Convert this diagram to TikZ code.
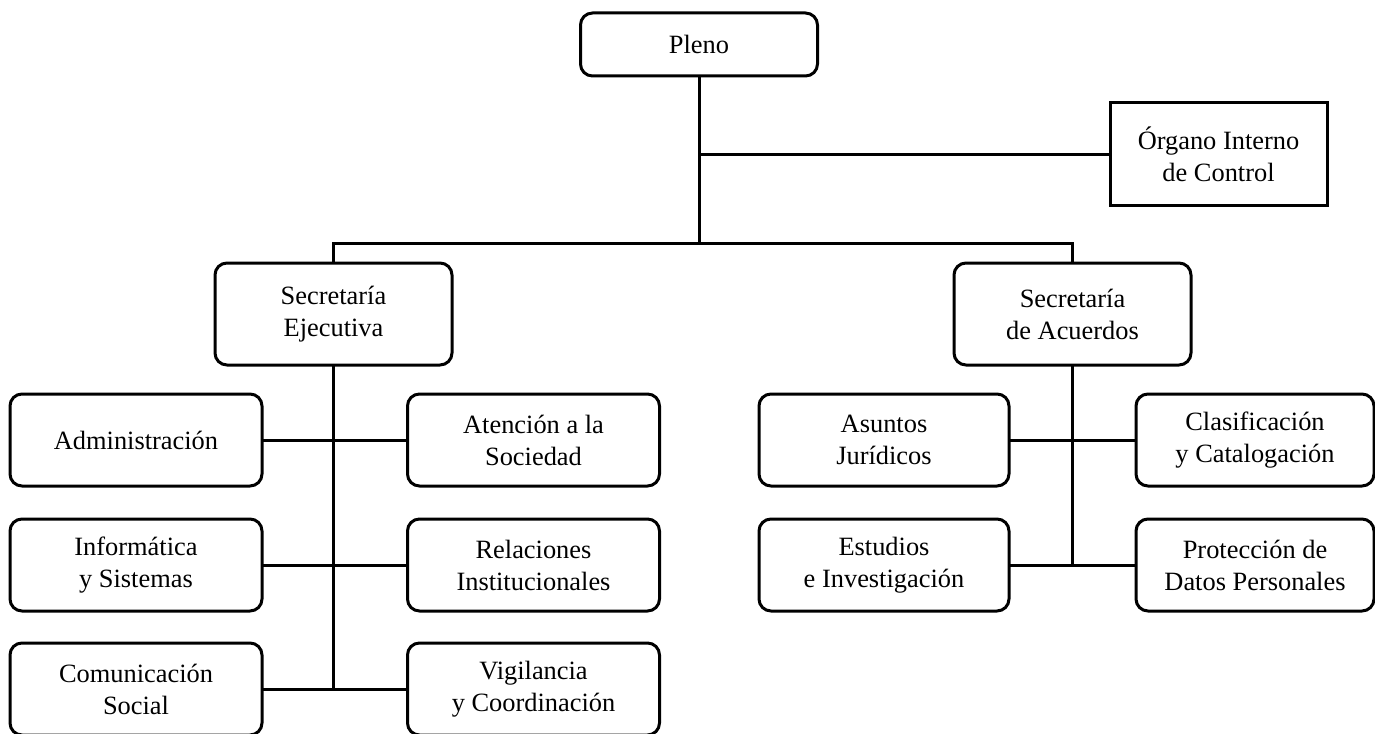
\documentclass[tikz,border=0pt]{standalone}
\usepackage{fontspec}
\setmainfont{Liberation Serif}
\usetikzlibrary{
positioning,
}
\tikzset{
outer sep=0pt,
every node/.style={align=center, font=\fontsize{13.2}{16}\selectfont},
unit/.style={rectangle, draw, line width=1.5pt, rounded corners=6pt,
  minimum width=126pt, minimum height=46pt, inner sep=0pt},
head/.style={unit, minimum width=118.5pt, minimum height=51pt},
control/.style={unit, rounded corners=0pt, minimum width=108.5pt, minimum height=51pt},
link/.style={line width=1.5pt},
}

\begin{document}
\begin{tikzpicture}[x=0.5pt, y=-0.5pt]
\useasboundingbox (0,0) rectangle (1375,733);
% top
\node (pleno) [head, minimum height=31.5pt] at (699,44.5) {Pleno};
\node (oic) [control] at (1218.5,154) {Órgano Interno\\de Control};
\coordinate (bar) at (699,243);
% secretarias
\node (se) [head] at (333.5,314) {Secretaría\\Ejecutiva};
\node (sa) [head] at (1072.5,314) {Secretaría\\de Acuerdos};
% ejecutiva
\node (admin) [unit] at (136,440) {Administración};
\node (info) [unit] at (136,565) {Informática\\y Sistemas};
\node (comu) [unit] at (136,689) {Comunicación\\Social};
\node (aten) [unit] at (533.5,440) {Atención a la\\Sociedad};
\node (rel) [unit] at (533.5,565) {Relaciones\\Institucionales};
\node (vig) [unit] at (533.5,689) {Vigilancia\\y Coordinación};
% acuerdos
\node (asun) [unit, minimum width=125pt] at (884,440) {Asuntos\\Jurídicos};
\node (estu) [unit, minimum width=125pt] at (884,565) {Estudios\\e Investigación};
\node (clas) [unit, minimum width=119pt] at (1255,440) {Clasificación\\y Catalogación};
\node (prot) [unit, minimum width=119pt] at (1255,565) {Protección de\\Datos Personales};

\draw [link] (pleno) -- (bar);
\draw [link] (pleno |- oic) -- (oic);
\draw [link] (se.north) |- (bar) -| (sa.north);
\draw [link] (se.south) -- (se |- comu);
\draw [link] (admin) -- (aten);
\draw [link] (info) -- (rel);
\draw [link] (comu) -- (vig);
\draw [link] (sa.south) -- (sa |- estu);
\draw [link] (asun) -- (clas);
\draw [link] (estu) -- (prot);
\end{tikzpicture}
\end{document}
